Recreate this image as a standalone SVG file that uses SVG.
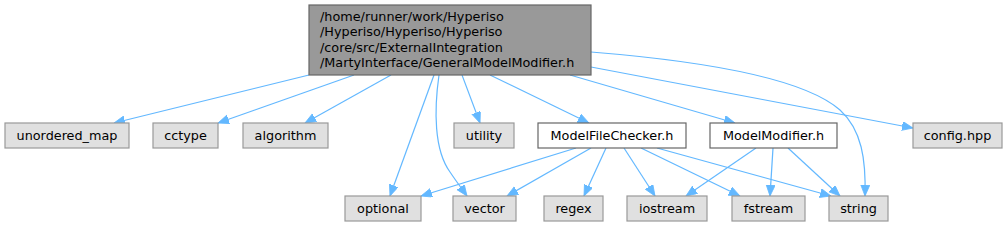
<svg xmlns="http://www.w3.org/2000/svg" width="1008" height="227" viewBox="0 0 1008 227">
<defs>
<marker id="ah" markerUnits="userSpaceOnUse" markerWidth="12" markerHeight="10" refX="11" refY="4.5" orient="auto">
<path d="M0,0 L11,4.5 L0,9 z" fill="#63b8ff" stroke="#63b8ff" stroke-width="0.8"/>
</marker>
<style>
.e{fill:none;stroke:#63b8ff;stroke-width:1.2;marker-end:url(#ah)}
.g{fill:#e0e0e0;stroke:#999999;stroke-width:1.2}
.w{fill:#ffffff;stroke:#666666;stroke-width:1.2}
.m{fill:#999999;stroke:#666666;stroke-width:1.2}
text{font-family:"DejaVu Sans","Liberation Sans",sans-serif;font-size:12.8px;fill:#000000}
.c{text-anchor:middle}
</style>
</defs>
<g id="connectors">
<path class="e" d="M309,75 L114,123"/>
<path class="e" d="M354,75 L218,123"/>
<path class="e" d="M391,75 L305,123"/>
<path class="e" d="M462,75 L480,123"/>
<path class="e" d="M490,75 L589,123"/>
<path class="e" d="M570,75 L735,123"/>
<path class="e" d="M591,67 L913,128"/>
<path class="e" d="M434,75 L390,196"/>
<path class="e" d="M439,75 C434,110 434,150 450,172 C456,181 462,189 467,196"/>
<path class="e" d="M591,52 C690,60 800,75 840,110 C862,130 866,160 865,196"/>
<path class="e" d="M576,148 L421,196"/>
<path class="e" d="M591,148 L507,196"/>
<path class="e" d="M606,148 L584,196"/>
<path class="e" d="M624,148 L655,196"/>
<path class="e" d="M641,148 L740,196"/>
<path class="e" d="M657,148 L831,196"/>
<path class="e" d="M756,148 L686,196"/>
<path class="e" d="M773,148 L770,196"/>
<path class="e" d="M788,148 L840,196"/>
</g>
<g id="main">
<rect class="m" x="309" y="5" width="282" height="70"/>
<text x="320" y="20.5">/home/runner/work/Hyperiso</text>
<text x="320" y="36">/Hyperiso/Hyperiso/Hyperiso</text>
<text x="320" y="51.5">/core/src/ExternalIntegration</text>
<text x="320" y="67">/MartyInterface/GeneralModelModifier.h</text>
</g>
<g id="unordered_map"><rect class="g" x="5" y="123" width="124" height="25"/><text class="c" x="67" y="140">unordered_map</text></g>
<g id="cctype"><rect class="g" x="153" y="123" width="65" height="25"/><text class="c" x="185.5" y="140">cctype</text></g>
<g id="algorithm"><rect class="g" x="243" y="123" width="85" height="25"/><text class="c" x="285.5" y="140">algorithm</text></g>
<g id="utility"><rect class="g" x="454" y="123" width="60" height="25"/><text class="c" x="484" y="140">utility</text></g>
<g id="ModelFileChecker"><rect class="w" x="538" y="123" width="148" height="25"/><text class="c" x="612" y="140">ModelFileChecker.h</text></g>
<g id="ModelModifier"><rect class="w" x="710" y="123" width="127" height="25"/><text class="c" x="773.5" y="140">ModelModifier.h</text></g>
<g id="config"><rect class="g" x="913" y="123" width="89" height="25"/><text class="c" x="957.5" y="140">config.hpp</text></g>
<g id="optional"><rect class="g" x="345" y="196" width="76" height="25"/><text class="c" x="383" y="212.5">optional</text></g>
<g id="vector"><rect class="g" x="453" y="196" width="63" height="25"/><text class="c" x="484.5" y="212.5">vector</text></g>
<g id="regex"><rect class="g" x="544" y="196" width="59" height="25"/><text class="c" x="573.5" y="212.5">regex</text></g>
<g id="iostream"><rect class="g" x="627" y="196" width="80" height="25"/><text class="c" x="667" y="212.5">iostream</text></g>
<g id="fstream"><rect class="g" x="732" y="196" width="73" height="25"/><text class="c" x="768.5" y="212.5">fstream</text></g>
<g id="string"><rect class="g" x="829" y="196" width="59" height="25"/><text class="c" x="858.5" y="212.5">string</text></g>
</svg>
